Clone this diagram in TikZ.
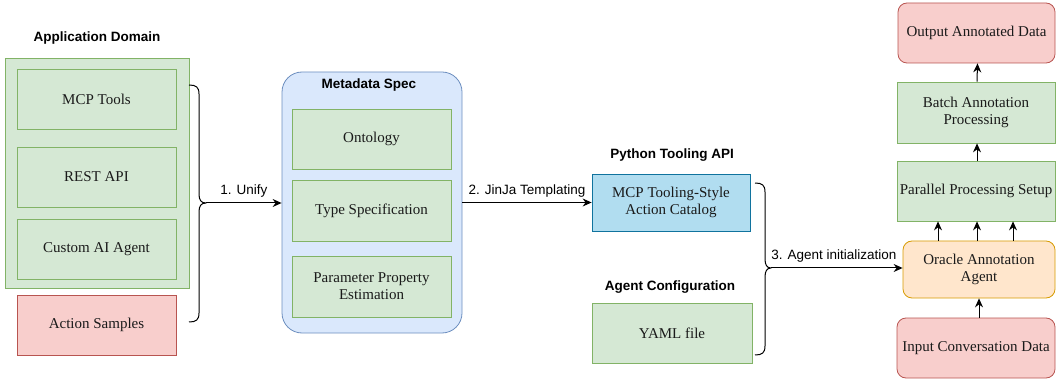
\documentclass[tikz,border=0pt]{standalone}
\usepackage{fontspec}
\setmainfont{Liberation Serif}
\newfontfamily\labelfont{Liberation Sans}
\usetikzlibrary{arrows.meta,calc}

\definecolor{gfill}{HTML}{D5E8D4}
\definecolor{gline}{HTML}{82B366}
\definecolor{rfill}{HTML}{F8CECC}
\definecolor{rline}{HTML}{B85450}
\definecolor{bfill}{HTML}{DAE8FC}
\definecolor{bline}{HTML}{6C8EBF}
\definecolor{cfill}{HTML}{B1DDF0}
\definecolor{cline}{HTML}{10739E}
\definecolor{ofill}{HTML}{FFE6CC}
\definecolor{oline}{HTML}{D79B00}
\definecolor{ink}{HTML}{1A1A1A}

\begin{document}
\begin{tikzpicture}[x=1pt,y=-1pt,
  box/.style={rectangle, draw, line width=0.8pt, align=center, inner sep=2pt,
    text=ink, font=\fontsize{15}{17}\selectfont},
  greenbox/.style={box, fill=gfill, draw=gline},
  redbox/.style={box, fill=rfill, draw=rline},
  rredbox/.style={redbox, rounded corners=9pt},
  title/.style={font=\labelfont\bfseries\fontsize{13.5}{15}\selectfont, inner sep=1pt},
  edgelabel/.style={font=\labelfont\fontsize{13.5}{15}\selectfont, inner sep=1pt, above=4pt},
  arr/.style={line width=1pt, -{Stealth[length=9pt,width=8pt,inset=3pt]}},
  brace/.style={line width=1pt, line join=round}
]
\useasboundingbox (0,0) rectangle (1057,379);

% ---- application domain ----
\node[title] (tapp) at (97,38) {Application Domain};
\node[greenbox, minimum width=184pt, minimum height=230pt] (appdom) at (97,173) {};
\node[greenbox, minimum width=159pt, minimum height=60pt] (mcp) at (96.5,99) {MCP Tools};
\node[greenbox, minimum width=159pt, minimum height=60pt] (rest) at (96.5,177) {REST API};
\node[greenbox, minimum width=159pt, minimum height=60pt] (custom) at (96.5,249) {Custom AI Agent};
\node[redbox, minimum width=159pt, minimum height=60pt] (samples) at (96.5,325) {Action Samples};

% ---- metadata spec ----
\node[box, fill=bfill, draw=bline, rounded corners=20pt, minimum width=180pt, minimum height=261pt] (meta) at (372,202.5) {};
\node[title] (tmeta) at (369,85) {Metadata Spec};
\node[greenbox, minimum width=159pt, minimum height=60pt] (onto) at (371.5,139) {Ontology};
\node[greenbox, minimum width=159pt, minimum height=61pt] (type) at (371.5,210.5) {Type Specification};
\node[greenbox, minimum width=159pt, minimum height=61pt] (param) at (371.5,286.5) {Parameter Property\\Estimation};

% ---- tooling api and configuration ----
\node[title] (tpy) at (672,155) {Python Tooling API};
\node[box, fill=cfill, draw=cline, minimum width=158pt, minimum height=57pt] (catalog) at (671,202.5) {MCP Tooling-Style\\Action Catalog};
\node[title] (tcfg) at (670,287) {Agent Configuration};
\node[greenbox, minimum width=160pt, minimum height=60pt] (yaml) at (672,333) {YAML file};

% ---- annotation pipeline ----
\node[rredbox, minimum width=157pt, minimum height=60pt] (output) at (976.5,33) {Output Annotated Data};
\node[greenbox, minimum width=158pt, minimum height=61pt] (batch) at (976,112.5) {Batch Annotation\\Processing};
\node[greenbox, minimum width=158pt, minimum height=60pt] (parallel) at (976,191) {Parallel Processing Setup};
\node[box, fill=ofill, draw=oline, rounded corners=9pt, minimum width=152pt, minimum height=57pt] (oracle) at (979,269.5) {Oracle Annotation\\Agent};
\node[rredbox, minimum width=158pt, minimum height=60pt] (input) at (976,348) {Input Conversation Data};

% ---- brace 1: sources -> metadata ----
\coordinate (b1top) at (189,85);
\coordinate (b1bot) at (189,322);
\coordinate (b1tip) at (206,203);
\draw[brace] (b1top) .. controls (196,85) and (199,87) .. (199,94) -- (199,194)
  .. controls (199,200) and (201,203) .. (b1tip)
  .. controls (201,203) and (199,206) .. (199,212) -- (199,313)
  .. controls (199,320) and (196,322) .. (b1bot);
\draw[arr] (b1tip) -- (b1tip -| meta.west) node[edgelabel, midway] {1. Unify};

% ---- metadata -> catalog ----
\draw[arr] (meta.east) -- (catalog.west) node[edgelabel, midway] {2. JinJa Templating};

% ---- brace 2: catalog + config -> oracle ----
\coordinate (b2top) at (755,183);
\coordinate (b2bot) at (755,355);
\coordinate (b2tip) at (771,268);
\draw[brace] (b2top) .. controls (762,183) and (765,185) .. (765,192) -- (765,259)
  .. controls (765,265) and (767,268) .. (b2tip)
  .. controls (767,268) and (765,271) .. (765,277) -- (765,346)
  .. controls (765,353) and (762,355) .. (b2bot);
\draw[arr] (b2tip) -- (b2tip -| oracle.west) node[edgelabel, midway, xshift=-3pt] {3. Agent initialization};

% ---- pipeline arrows ----
\draw[arr] (input.north -| oracle.south) -- (oracle.south);
\draw[arr] ([xshift=-41pt]oracle.north) -- ([xshift=-41pt]oracle.north |- parallel.south);
\draw[arr] ([xshift=-2pt]oracle.north) -- ([xshift=-2pt]oracle.north |- parallel.south);
\draw[arr] ([xshift=34pt]oracle.north) -- ([xshift=34pt]oracle.north |- parallel.south);
\draw[arr] ([xshift=1pt]parallel.north) -- ([xshift=1pt]batch.south);
\draw[arr] ([xshift=1pt]batch.north) -- ([xshift=1pt]output.south);
\end{tikzpicture}
\end{document}
